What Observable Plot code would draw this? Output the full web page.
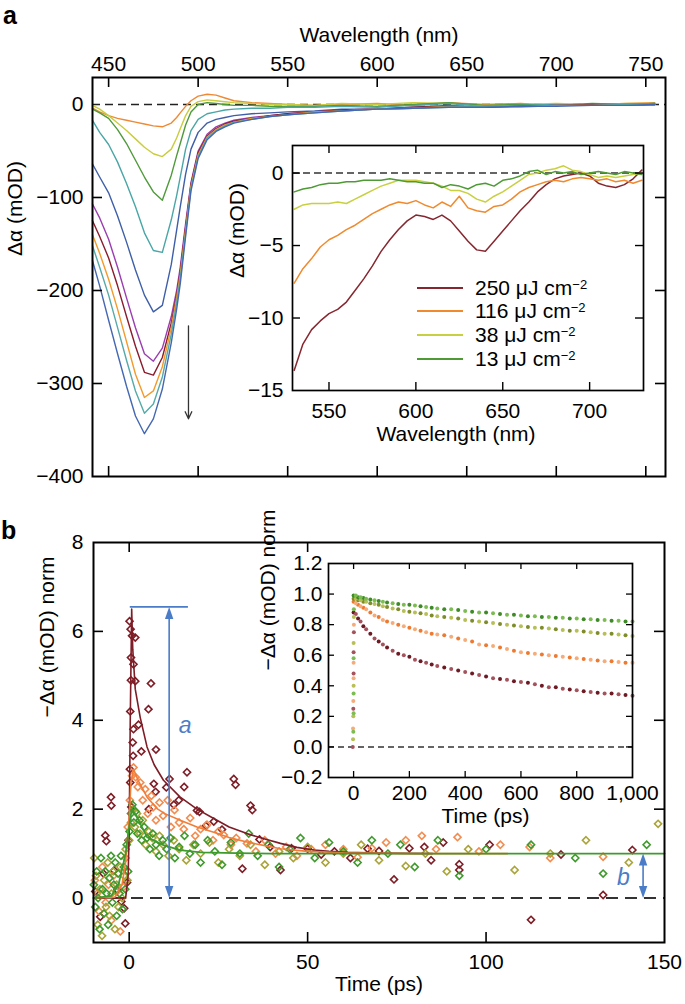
<!DOCTYPE html>
<html><head><meta charset="utf-8">
<script src="https://cdn.jsdelivr.net/npm/d3@7"></script>
<script src="https://cdn.jsdelivr.net/npm/@observablehq/plot@0.6"></script>
<style>
body{margin:0;background:#fff;}
#wrap{position:relative;width:685px;height:1004px;overflow:hidden;font-family:"Liberation Sans",Arial,Helvetica,sans-serif;color:#000;}
.lbl{position:absolute;font-weight:bold;font-size:25px;line-height:1;}
#legA{position:absolute;left:417px;top:276px;font-size:21px;}
#legA .row{display:flex;align-items:center;height:23.6px;white-space:nowrap;}
#legA .sw{display:inline-block;width:46px;height:0;margin-right:12px;}
#legA sup{font-size:13px;vertical-align:6px;line-height:0;}
</style></head><body><div id="wrap"></div>
<script>
// ---------------- Panel a: main spectra ----------------
const wl = [441,445,450,455,460,465,470,475,480,485,488,490,493,496,500,505,510,515,520,530,540,550,565,580,600,620,640,660,680,700,720,740,755];
const specOrange1 = [-4,-8,-12,-15,-17,-19,-21,-23,-24,-20,-14,-9,-2,4,9,11,10,7,4,2,1,0,-1,0,1,-1,2,0,1,-1,0,1,2];
const specYellow  = [-1,-5,-12,-20,-28,-37,-46,-53,-56,-48,-36,-26,-12,-2,3,5,4,3,2,1,0,0,-1,1,0,2,1,-1,0,1,0,1,1];
const specGreen   = [-5,-9,-15,-27,-42,-60,-78,-94,-103,-76,-55,-42,-22,-8,0,2,1,0,-1,-1,-2,-2,-2,-1,-2,0,2,-1,0,-1,1,0,1];
const specTeal1   = [-17,-30,-43,-62,-85,-110,-138,-157,-159,-124,-98,-78,-48,-28,-16,-10,-8,-6,-5,-4,-4,-3,-3,-2,-3,-1,1,-2,-1,0,-1,0,1];
const specBlue1   = [-64,-78,-95,-120,-148,-178,-205,-223,-216,-172,-135,-110,-75,-48,-30,-20,-16,-14,-12,-10,-9,-8,-7,-5,-5,-3,-1,-3,-2,-1,-1,0,0];
const specPurple  = [-107,-122,-145,-175,-208,-240,-268,-276,-262,-228,-200,-175,-128,-84,-50,-32,-24,-20,-17,-14,-12,-10,-8,-6,-5,-4,-2,-3,-2,-1,-1,0,0];
const specRed     = [-125,-142,-165,-195,-228,-260,-288,-291,-272,-235,-205,-180,-132,-86,-52,-34,-26,-21,-18,-15,-12,-10,-8,-6,-5,-3,-2,-3,-2,-1,0,-1,0];
const specOrange2 = [-140,-160,-188,-220,-255,-290,-315,-308,-282,-240,-208,-183,-135,-88,-54,-35,-27,-22,-19,-15,-13,-11,-8,-7,-5,-4,-2,-2,-3,-1,-1,0,0];
const specTeal2   = [-152,-175,-205,-240,-275,-308,-332,-322,-293,-247,-213,-187,-138,-90,-56,-36,-28,-23,-19,-16,-13,-11,-9,-7,-5,-4,-3,-2,-2,-1,-1,0,0];
const specBlue2   = [-168,-195,-232,-268,-303,-335,-354,-338,-306,-256,-220,-193,-142,-93,-58,-38,-29,-24,-20,-16,-13,-11,-9,-7,-5,-4,-3,-3,-2,-2,-1,-1,0];
const spectra = [specOrange1, specYellow, specGreen, specTeal1, specBlue1, specPurple, specRed, specOrange2, specTeal2, specBlue2];
const specColors = ["#ee8a36","#c9cc3c","#4f9a3a","#4aa6a6","#3e5fa8","#9a3db0","#8a1c2c","#f29a2a","#55aaa8","#4468b2"];
const aXTicks = [450,500,550,600,650,700,750];
const aYTicks = [0,-100,-200,-300,-400];

// ---------------- Panel a: inset ----------------
const wlIn = [530,535,540,545,550,555,560,565,570,575,580,585,590,595,600,605,610,615,620,625,630,635,640,645,650,655,660,665,670,675,680,685,690,695,700,705,710,715,720,725,730];
const in250 = [-13.6,-11.8,-10.8,-10.2,-9.7,-9.4,-8.9,-8.1,-7.3,-6.4,-5.4,-4.6,-3.9,-3.3,-2.9,-3.0,-3.2,-2.9,-3.3,-4.0,-4.7,-5.3,-5.4,-4.7,-4.0,-3.3,-2.6,-2.0,-1.3,-0.8,-0.4,-0.2,-0.1,0.0,-0.2,-0.7,-0.9,-1.0,-0.8,-0.4,0.2];
const in116 = [-7.6,-6.6,-5.9,-5.1,-4.6,-4.3,-3.9,-3.6,-3.2,-2.8,-2.5,-2.2,-2.0,-2.1,-1.9,-2.2,-2.4,-2.0,-2.3,-1.6,-2.4,-2.6,-2.7,-2.3,-2.2,-1.8,-1.3,-1.0,-0.8,-0.6,-0.5,-0.6,-0.4,-0.3,-0.4,-0.5,-0.4,-0.6,-0.5,-0.7,-0.5];
const in38  = [-2.5,-2.2,-2.1,-2.1,-2.1,-2.0,-2.1,-1.8,-1.5,-1.2,-0.9,-0.7,-0.5,-0.5,-0.5,-0.6,-0.7,-0.9,-1.2,-1.2,-1.4,-1.8,-2.0,-1.6,-1.3,-0.9,-0.5,-0.1,0.0,0.2,0.3,0.5,0.2,0.1,-0.1,-0.3,-0.2,-0.3,-0.2,-0.1,0.0];
const in13  = [-1.3,-1.1,-1.0,-0.8,-0.7,-0.7,-0.6,-0.6,-0.5,-0.5,-0.5,-0.4,-0.5,-0.6,-0.6,-0.7,-0.7,-1.0,-0.8,-0.9,-1.1,-0.8,-0.7,-0.9,-0.5,-0.4,-0.2,0.1,0.2,-0.1,0.1,0.0,0.1,-0.1,0.0,0.1,0.0,-0.1,0.1,0.0,-0.1];
const fluences = ["250","116","38","13"];
const insetSeries = [in250, in116, in38, in13];
const fluenceColors = ["#86272f","#ef8a2e","#c8d042","#4e9a34"];
const inXTicks = [550,600,650,700];
const inYTicks = [0,-5,-10,-15];

// ---------------- Panel b: main kinetics ----------------
const pts250 = [[-9.5,0.15],[-8.1,-0.42],[-7.2,0.55],[-6.7,1.41],[-6.4,1.28],[-5.1,2.27],[-5.0,2.08],[-4.2,0.62],[-3.3,0.18],[-2.2,-0.08],[-1.4,-0.23],[-1.1,-0.57],[-0.6,0.35],[-0.2,1.3],[0.1,6.23],[0.4,6.05],[0.8,5.9],[1.7,5.86],[0.5,5.41],[1.2,5.26],[0.5,4.9],[1.7,4.88],[0.3,4.2],[1.2,3.8],[1.0,3.5],[1.1,3.2],[0.3,2.6],[0.2,2.9],[0.6,2.05],[5.4,4.25],[6.1,4.83],[7.5,3.34],[2.6,3.9],[3.4,3.3],[5.5,2.0],[6.9,2.57],[7.4,2.39],[10.4,2.49],[11.3,2.68],[12.5,2.1],[13.9,2.2],[15.4,2.5],[16.2,2.83],[19,1.97],[19.7,1.94],[21.5,1.62],[23.7,1.72],[26,1.54],[29.3,2.68],[29.8,2.55],[31.7,0.66],[34,2.08],[34.5,1.98],[36.5,1.32],[39.5,1.15],[42.4,0.63],[45.5,1.12],[50,1.11],[53.8,0.98],[57.5,1.05],[62,0.9],[66.8,1.11],[70,1.06],[74.2,0.42],[78.5,1.12],[82.7,1.15],[84.6,0.85],[88,1.25],[92.5,0.63],[92.5,0.76],[101,1.2],[112.6,-0.49],[121,0.98],[132.8,0.07],[141,1.08]];
const pts116 = [[-9.6,0.4],[-9,0.1],[-8.4,-0.3],[-7.5,0.7],[-6.6,-0.1],[-5.8,0.3],[-5,-0.5],[-4.4,0.5],[-3.5,0.14],[-2.5,-0.75],[-1.6,0.25],[-1.0,0.9],[-0.4,1.6],[0.2,2.2],[0.8,2.75],[1.2,2.94],[1.8,2.72],[2.4,2.5],[3.1,2.6],[3.8,2.2],[4.5,2.45],[5.2,1.9],[6.2,2.3],[6.7,2.04],[7.5,1.75],[8.5,2.15],[9.5,1.85],[10.8,2.2],[11.7,1.6],[12.7,1.98],[14,1.7],[15.3,1.55],[17.1,1.8],[18.5,1.4],[20,1.55],[21.8,1.65],[23.5,1.3],[25,1.5],[26.5,1.42],[28.5,1.2],[30,1.35],[33,1.23],[35.5,1.05],[38,1.3],[41,1.0],[44,1.15],[47,0.95],[51,1.1],[55,1.2],[60,1.1],[64,0.92],[68,1.12],[72,1.25],[77.5,1.3],[82,1.4],[86,1.1],[92,1.37],[98,1.05],[104,1.2],[112.2,1.15],[118,0.9],[132.8,0.93]];
const pts38 = [[-9.8,0.9],[-9.3,0.5],[-8.8,-0.6],[-8.2,0.2],[-7.6,-0.85],[-7.0,0.4],[-6.5,-0.2],[-6,0.8],[-5.5,-0.4],[-5,0.1],[-4.5,0.6],[-4,-0.7],[-3.5,0.3],[-3,-0.2],[-2.5,0.7],[-2,0.0],[-1.5,0.5],[-1,1.1],[-0.5,0.4],[0,1.3],[0.5,1.7],[1,2.0],[1.6,1.6],[2.2,1.9],[3,1.45],[3.8,1.75],[4.6,1.2],[5.5,1.5],[6.5,1.35],[7.5,1.05],[8.5,1.4],[9.5,1.2],[11,0.95],[12.5,1.3],[14,1.1],[16,0.85],[18,1.2],[20,1.0],[22.5,1.25],[25,0.8],[28,1.1],[31,0.95],[34,1.2],[38,0.75],[42,1.05],[46,0.9],[50,1.15],[55,0.8],[60,1.0],[65,1.2],[70,0.85],[77.5,0.72],[83,1.0],[89,0.6],[95,1.1],[108,0.63],[118,1.0],[128,1.3],[140,0.8],[148.2,1.67]];
const pts13 = [[-9.9,0.3],[-9.5,-0.2],[-9.1,0.6],[-8.7,0.0],[-8.3,-0.7],[-7.9,0.9],[-7.5,0.2],[-7.1,-0.35],[-6.7,0.6],[-6.3,0.1],[-5.9,-0.6],[-5.5,0.45],[-5.1,0.95],[-4.7,-0.1],[-4.3,0.3],[-3.9,0.8],[-3.5,-0.4],[-3.1,0.55],[-2.7,0.1],[-2.3,0.95],[-1.9,-0.25],[-1.5,0.7],[-1.1,0.2],[-0.7,1.2],[-0.3,0.6],[0.1,1.5],[0.5,1.9],[0.9,2.1],[1.3,1.7],[1.8,1.95],[2.3,1.45],[2.9,1.75],[3.5,1.3],[4.2,1.6],[5,1.35],[5.8,1.1],[6.6,1.45],[7.5,1.2],[8.4,0.95],[9.4,1.3],[10.5,1.1],[11.6,1.35],[12.8,0.9],[14,1.15],[15.5,1.4],[17,1.0],[18.5,1.2],[20,0.8],[22,1.3],[24,1.05],[26,0.75],[28.5,1.25],[31,1.0],[33.5,1.45],[36,0.95],[39,1.2],[42,0.7],[45,1.1],[48,1.35],[52,0.9],[56,1.25],[60,1.05],[64,0.8],[68,1.3],[72.5,1.0],[76,1.2],[80,0.7],[86.5,1.3],[92.5,0.5],[100,1.1],[112.6,1.2],[125,0.9],[132.8,0.55],[145,1.2]];
const fit250 = [[-10,0],[-1,0],[-0.3,0.5],[0,1.5],[0.3,4.0],[0.7,6.5],[1.0,5.6],[1.7,4.7],[3.1,4.06],[5,3.4],[7,3.0],[9.6,2.65],[14.3,2.27],[19,2.0],[23.7,1.79],[28,1.6],[33,1.45],[38,1.33],[42.4,1.23],[47,1.14],[51.8,1.08],[56,1.05],[61,1.03],[70,1.01],[85,1.0]];
const fit116 = [[-10,0],[-4,0.02],[-2,0.3],[-1,0.8],[0,1.8],[0.5,2.6],[1.2,2.9],[2.5,2.65],[5,2.27],[8,2.0],[10,1.9],[14.3,1.75],[19,1.6],[23.7,1.48],[28,1.36],[33,1.26],[38,1.18],[42.4,1.11],[50,1.05],[60,1.02],[80,1.0],[106,1.0]];
const fit13 = [[-10,0],[-5,0.05],[-3,0.3],[-1,1.0],[0,1.6],[0.7,2.0],[2,1.85],[5,1.37],[9.6,1.19],[14.3,1.08],[20,1.03],[30,1.01],[40,1.0],[150,1.0]];
const ampA = {t: 11.2, top: 6.55, barFrom: 0.3, barTo: 16.6};
const ampB = {t: 144, top: 1.0};
const bXTicks = [0,50,100,150];
const bYTicks = [0,2,4,6,8];

// ---------------- Panel b: inset ----------------
const insetT = [0,8,16,25,35,45,60,75,90,105,120,140,160,180,200,220,240,260,280,300,325,350,375,400,425,450,475,500,525,550,575,600,625,650,675,700,725,750,775,800,825,850,875,900,925,950,975,1000];
const dec250 = [0.88,0.87,0.84,0.82,0.79,0.77,0.74,0.71,0.69,0.67,0.65,0.63,0.61,0.60,0.59,0.57,0.56,0.55,0.54,0.53,0.52,0.51,0.50,0.49,0.48,0.47,0.46,0.45,0.445,0.44,0.43,0.425,0.42,0.41,0.40,0.39,0.39,0.38,0.375,0.37,0.365,0.36,0.355,0.35,0.35,0.345,0.34,0.335];
const dec116 = [0.95,0.94,0.93,0.92,0.91,0.90,0.88,0.86,0.85,0.83,0.82,0.81,0.80,0.79,0.78,0.77,0.76,0.75,0.74,0.735,0.73,0.72,0.71,0.70,0.69,0.67,0.665,0.66,0.65,0.64,0.63,0.62,0.615,0.61,0.605,0.60,0.595,0.59,0.585,0.58,0.575,0.57,0.565,0.56,0.56,0.555,0.55,0.55];
const dec38  = [0.97,0.97,0.96,0.96,0.95,0.95,0.94,0.935,0.93,0.92,0.915,0.905,0.90,0.89,0.885,0.88,0.875,0.87,0.86,0.855,0.85,0.845,0.84,0.83,0.825,0.82,0.815,0.81,0.805,0.80,0.795,0.79,0.785,0.78,0.78,0.775,0.77,0.765,0.76,0.76,0.755,0.75,0.745,0.74,0.74,0.735,0.73,0.725];
const dec13  = [0.99,0.99,0.98,0.98,0.975,0.97,0.965,0.96,0.955,0.95,0.945,0.94,0.935,0.93,0.93,0.925,0.92,0.915,0.91,0.905,0.90,0.90,0.895,0.89,0.885,0.88,0.88,0.875,0.87,0.865,0.865,0.86,0.855,0.855,0.85,0.85,0.845,0.845,0.84,0.84,0.835,0.835,0.83,0.83,0.825,0.825,0.82,0.82];
const rise250 = [[-3,0.0],[-1,0.25],[0,0.48],[0,0.62],[1,0.75]];
const rise116 = [[-2,0.12],[-1,0.3],[0,0.45],[0,0.55],[1,0.8]];
const rise38  = [[-2,0.05],[-1,0.2],[0,0.4],[0,0.68],[1,0.85]];
const rise13  = [[-1,0.1],[0,0.22],[0,0.35],[0,0.58],[1,0.9]];
const bInXTicks = [0,200,400,600,800,1000];
const bInYTicks = [-0.2,0,0.2,0.4,0.6,0.8,1.0,1.2];

// ================= rendering =================
const FONT = '"Liberation Sans", Arial, Helvetica, sans-serif';
const wrap = document.getElementById("wrap");
const baseStyle = {background: "transparent", fontSize: "21px", fontFamily: FONT, color: "black", overflow: "visible"};
function place(svg, left, top) {
  svg.style.position = "absolute";
  svg.style.left = left + "px";
  svg.style.top = top + "px";
  svg.style.maxWidth = "none";
  wrap.appendChild(svg);
}
function inward(xDom, yDom, fw, fh, xt, yt, len, sides, sw) {
  const kx = (xDom[1] - xDom[0]) / fw, ky = (yDom[1] - yDom[0]) / fh;
  const o = {stroke: "black", strokeWidth: sw};
  const m = [];
  if (sides.includes("t")) m.push(Plot.ruleX(xt, {x: d => d, y1: () => yDom[1], y2: () => yDom[1] - len * ky, ...o}));
  if (sides.includes("b")) m.push(Plot.ruleX(xt, {x: d => d, y1: () => yDom[0], y2: () => yDom[0] + len * ky, ...o}));
  if (sides.includes("l")) m.push(Plot.ruleY(yt, {y: d => d, x1: () => xDom[0], x2: () => xDom[0] + len * kx, ...o}));
  if (sides.includes("r")) m.push(Plot.ruleY(yt, {y: d => d, x1: () => xDom[1], x2: () => xDom[1] - len * kx, ...o}));
  return m;
}
const fmtInt = d3.format("d");

const la = document.createElement("div"); la.className = "lbl"; la.style.left = "3px"; la.style.top = "3px"; la.textContent = "a"; wrap.appendChild(la);
const lb = document.createElement("div"); lb.className = "lbl"; lb.style.left = "1px"; lb.style.top = "518px"; lb.textContent = "b"; wrap.appendChild(lb);

// ---- panel a main ----
{
  const xDom = [441, 761], yDom = [-400, 29];
  const svg = Plot.plot({
    width: 685, height: 490, marginTop: 77, marginBottom: 14, marginLeft: 92, marginRight: 20,
    style: baseStyle,
    x: {domain: xDom, axis: "top", ticks: aXTicks, tickSize: 0, tickPadding: 7, label: null, tickFormat: fmtInt},
    y: {domain: yDom, axis: "left", ticks: aYTicks, tickSize: 0, tickPadding: 9, label: null, tickFormat: fmtInt},
    marks: [
      Plot.ruleY([0], {stroke: "#222", strokeDasharray: "8,5", strokeWidth: 1.6}),
      ...spectra.map((s, i) => Plot.line(s, {x: (d, j) => wl[j], y: d => d, stroke: specColors[i], strokeWidth: 1.4})),
      Plot.arrow([0], {x1: () => 494.6, x2: () => 494.6, y1: () => -238, y2: () => -338, stroke: "#333", strokeWidth: 1.3, headLength: 9, headAngle: 50}),
      ...inward(xDom, yDom, 573, 399, aXTicks, [-100, -200, -300], 10, "tblr", 1.6),
      Plot.frame({stroke: "black", strokeWidth: 2}),
      Plot.text(["Wavelength (nm)"], {frameAnchor: "top", dy: -50, fontSize: 21}),
      Plot.text(["Δα (mOD)"], {frameAnchor: "left", rotate: -90, dx: -77, dy: -21, fontSize: 21})
    ]
  });
  place(svg, 0, 0);
}

// ---- panel a inset ----
{
  const xDom = [529, 731], yDom = [-15, 1.9];
  const svg = Plot.plot({
    width: 460, height: 330, marginTop: 15, marginBottom: 70, marginLeft: 92, marginRight: 17,
    style: baseStyle,
    x: {domain: xDom, axis: "bottom", ticks: inXTicks, tickSize: 0, tickPadding: 13, label: null, tickFormat: fmtInt},
    y: {domain: yDom, axis: "left", ticks: inYTicks, tickSize: 0, tickPadding: 9, label: null, tickFormat: fmtInt},
    marks: [
      Plot.frame({fill: "white", stroke: null}),
      Plot.ruleY([0], {stroke: "#333", strokeDasharray: "7,4", strokeWidth: 1.5}),
      ...insetSeries.map((s, i) => Plot.line(s, {x: (d, j) => wlIn[j], y: d => d, stroke: fluenceColors[i], strokeWidth: 1.5})),
      ...inward(xDom, yDom, 351, 245, inXTicks, [0, -5, -10], 8, "tblr", 1.4),
      Plot.frame({stroke: "black", strokeWidth: 1.7}),
      Plot.text(["Wavelength (nm)"], {frameAnchor: "bottom", dy: 50, dx: -12, fontSize: 21}),
      Plot.text(["Δα (mOD)"], {frameAnchor: "left", rotate: -90, dx: -55, dy: 10, fontSize: 21})
    ]
  });
  place(svg, 200, 130);
  const leg = document.createElement("div"); leg.id = "legA";
  fluences.forEach((f, i) => {
    const row = document.createElement("div"); row.className = "row";
    row.innerHTML = `<span class="sw" style="border-top:2.5px solid ${fluenceColors[i]}"></span><span>${f} μJ cm<sup>−2</sup></span>`;
    leg.appendChild(row);
  });
  wrap.appendChild(leg);
}

// ---- panel b main ----
{
  const xDom = [-10, 150], yDom = [-1, 8];
  const blue = "#4a7cc8";
  const up = {draw(ctx) { ctx.moveTo(0, 0); ctx.lineTo(-4.2, 12); ctx.lineTo(4.2, 12); ctx.closePath(); }};
  const down = {draw(ctx) { ctx.moveTo(0, 0); ctx.lineTo(-4.2, -12); ctx.lineTo(4.2, -12); ctx.closePath(); }};
  const mk = (pts, c) => Plot.dot(pts, {x: d => d[0], y: d => d[1], symbol: "diamond2", r: 3.2, stroke: c, strokeWidth: 1.6, fill: "none"});
  const svg = Plot.plot({
    width: 685, height: 504, marginTop: 42, marginBottom: 62, marginLeft: 93, marginRight: 21,
    style: baseStyle,
    x: {domain: xDom, axis: "bottom", ticks: bXTicks, tickSize: 0, tickPadding: 12, label: null, tickFormat: fmtInt},
    y: {domain: yDom, axis: "left", ticks: bYTicks, tickSize: 0, tickPadding: 10, label: null, tickFormat: fmtInt},
    marks: [
      Plot.ruleY([0], {stroke: "#333", strokeDasharray: "12,7", strokeWidth: 2}),
      mk(pts250, "#7e1d26"),
      mk(pts116, "#f28c50"),
      mk(pts38, "#aaa338"),
      mk(pts13, "#3f9a2c"),
      Plot.line(fit250, {x: d => d[0], y: d => d[1], stroke: "#7e1d26", strokeWidth: 1.6}),
      Plot.line(fit116, {x: d => d[0], y: d => d[1], stroke: "#f07e38", strokeWidth: 1.6}),
      Plot.line(fit13, {x: d => d[0], y: d => d[1], stroke: "#3f9a2c", strokeWidth: 1.8}),
      Plot.ruleY([ampA.top], {x1: () => ampA.barFrom, x2: () => ampA.barTo, stroke: blue, strokeWidth: 1.8}),
      Plot.ruleX([ampA.t], {x: d => d, y1: () => 0.1, y2: () => ampA.top - 0.1, stroke: blue, strokeWidth: 1.6}),
      Plot.dot([ampA.top], {x: () => ampA.t, y: d => d, symbol: up, fill: blue, stroke: null}),
      Plot.dot([0], {x: () => ampA.t, y: d => d, symbol: down, fill: blue, stroke: null}),
      Plot.ruleX([ampB.t], {x: d => d, y1: () => 0.1, y2: () => ampB.top - 0.1, stroke: blue, strokeWidth: 1.6}),
      Plot.dot([ampB.top], {x: () => ampB.t, y: d => d, symbol: up, fill: blue, stroke: null}),
      Plot.dot([0], {x: () => ampB.t, y: d => d, symbol: down, fill: blue, stroke: null}),
      Plot.text(["a"], {x: () => 15.7, y: () => 3.88, fill: blue, fontStyle: "italic", fontSize: 23}),
      Plot.text(["b"], {x: () => 138.5, y: () => 0.47, fill: blue, fontStyle: "italic", fontSize: 23}),
      ...inward(xDom, yDom, 571, 400, [0, 50, 100], [2, 4, 6], 10, "tblr", 1.6),
      Plot.frame({stroke: "black", strokeWidth: 2}),
      Plot.text(["Time (ps)"], {frameAnchor: "bottom", dy: 48, fontSize: 21}),
      Plot.text(["−Δα (mOD) norm"], {frameAnchor: "left", rotate: -90, dx: -46, dy: -25, fontSize: 21})
    ]
  });
  place(svg, 0, 500);
}

// ---- panel b inset ----
{
  const xDom = [-90, 1000], yDom = [-0.2, 1.2];
  const sets = [
    [dec250, rise250, "#6e1a24", "#a4525c"],
    [dec116, rise116, "#ee7a30", "#f6ac7a"],
    [dec38, rise38, "#7f8c2a", "#b7bf56"],
    [dec13, rise13, "#3e8a26", "#7cbc52"]
  ];
  const dotMarks = sets.flatMap(([dec, rise, c1, c2]) => [
    Plot.dot(rise, {x: d => d[0], y: d => d[1], r: 2, fill: c2, stroke: null}),
    Plot.dot(dec, {x: (d, j) => insetT[j], y: d => d, r: 2, fill: c1, stroke: null, filter: (d, j) => j % 2 === 0}),
    Plot.dot(dec, {x: (d, j) => insetT[j], y: d => d, r: 2, fill: c2, stroke: null, filter: (d, j) => j % 2 === 1})
  ]);
  const svg = Plot.plot({
    width: 440, height: 290, marginTop: 18, marginBottom: 58, marginLeft: 98, marginRight: 38,
    style: baseStyle,
    x: {domain: xDom, axis: "bottom", ticks: bInXTicks, tickSize: 0, tickPadding: 8, label: null, tickFormat: d3.format(",")},
    y: {domain: yDom, axis: "left", ticks: bInYTicks, tickSize: 0, tickPadding: 6, label: null, tickFormat: d3.format(".1f")},
    marks: [
      Plot.frame({fill: "white", stroke: null}),
      Plot.ruleY([0], {stroke: "#333", strokeDasharray: "6,4", strokeWidth: 1.5}),
      ...dotMarks,
      ...inward(xDom, yDom, 304, 214, [0, 200, 400, 600, 800], [0, 0.2, 0.4, 0.6, 0.8, 1.0], 6, "tblr", 1.3),
      Plot.frame({stroke: "black", strokeWidth: 1.7}),
      Plot.text(["Time (ps)"], {frameAnchor: "bottom", dy: 45, dx: 5, fontSize: 21}),
      Plot.text(["−Δα (mOD) norm"], {frameAnchor: "left", rotate: -90, dx: -60, fontSize: 21})
    ]
  });
  place(svg, 230, 545);
}
</script></body></html>
